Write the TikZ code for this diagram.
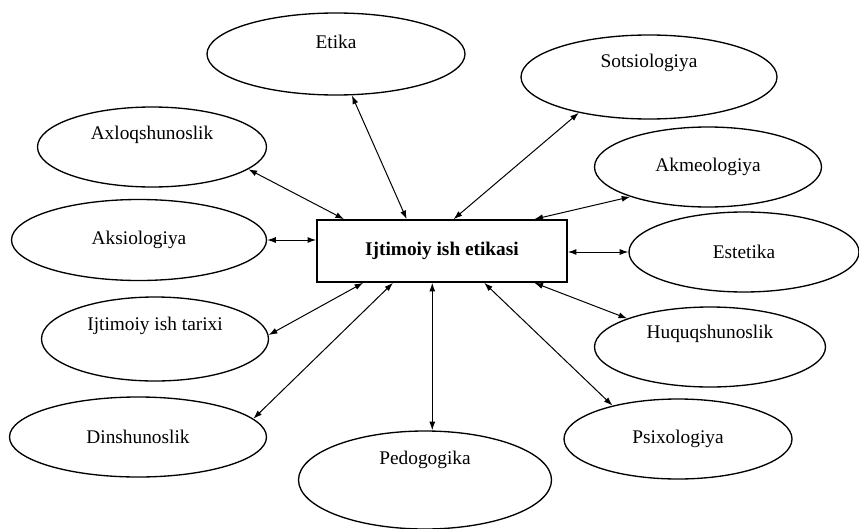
\documentclass[tikz,border=0pt]{standalone}
\usepackage{fontspec}
\setmainfont{Liberation Serif}
\usetikzlibrary{shapes.geometric,arrows.meta}

\tikzset{
	qism/.style={draw, ellipse, line width=1pt, inner sep=0pt},
	markaz/.style={draw, rectangle, line width=1.2pt, minimum width=187.5pt, minimum height=46.5pt, font=\fontsize{14.5}{17}\selectfont\bfseries},
	bog/.style={{Latex[length=6.5pt,width=4.5pt]}-{Latex[length=6.5pt,width=4.5pt]}, line width=0.75pt},
}

\begin{document}
\begin{tikzpicture}[x=0.75pt,y=0.75pt,yscale=-1,xscale=1,font=\fontsize{14.5}{17}\selectfont]
	\useasboundingbox (0,0) rectangle (859,528);
	
	%Shape: Rectangle
	\node [markaz] (ijtimoiy) at (442,251) {Ijtimoiy ish etikasi};
	
	%Shape: Ellipse
	\node [qism, minimum width=193.5pt, minimum height=61.5pt, label={[yshift=9pt]center:Etika}] (etika) at (336,54) {};
	%Shape: Ellipse
	\node [qism, minimum width=192pt, minimum height=63pt, label={[yshift=10.5pt]center:Sotsiologiya}] (sots) at (649,77) {};
	%Shape: Ellipse
	\node [qism, minimum width=171.75pt, minimum height=60pt, label={[yshift=9pt]center:Axloqshunoslik}] (axloq) at (152,147) {};
	%Shape: Ellipse
	\node [qism, minimum width=191.25pt, minimum height=60.75pt] (aksio) at (139,240) {Aksiologiya};
	%Shape: Ellipse
	\node [qism, minimum width=170.25pt, minimum height=60pt] (akmeo) at (708,167) {Akmeologiya};
	%Shape: Ellipse
	\node [qism, minimum width=172.5pt, minimum height=60pt] (estet) at (744,252) {Estetika};
	%Shape: Ellipse
	\node [qism, minimum width=170.25pt, minimum height=63pt, label={[yshift=9.75pt]center:Ijtimoiy ish tarixi}] (tarix) at (155,339) {};
	%Shape: Ellipse
	\node [qism, minimum width=192.75pt, minimum height=60pt] (din) at (138,437) {Dinshunoslik};
	%Shape: Ellipse
	\node [qism, minimum width=189.75pt, minimum height=73.5pt, label={[yshift=15pt]center:Pedogogika}] (pedo) at (425,480) {};
	%Shape: Ellipse
	\node [qism, minimum width=173.25pt, minimum height=60pt, label={[yshift=9.75pt]center:Huquqshunoslik}] (huquq) at (710,347) {};
	%Shape: Ellipse
	\node [qism, minimum width=171pt, minimum height=60pt] (psix) at (678,439) {Psixologiya};
	
	%Straight Lines
	\draw [bog] (etika.-69) -- (ijtimoiy.138.5);
	\draw [bog] (sots.-153.4) -- (ijtimoiy.70.5);
	\draw [bog] (axloq.-13.9) -- (ijtimoiy.162.6);
	\draw [bog] (aksio.east) -- (ijtimoiy.west |- aksio.east);
	\draw [bog] (akmeo.-159.2) -- (ijtimoiy.19.4);
	\draw [bog] (ijtimoiy.east |- estet.west) -- (estet.west);
	\draw [bog] (tarix.2) -- (ijtimoiy.-158.6);
	\draw [bog] (din.9.6) -- (ijtimoiy.-147.7);
	\draw [bog] (ijtimoiy.-107.9) -- (ijtimoiy.-107.9 |- pedo.north);
	\draw [bog] (huquq.161) -- (ijtimoiy.-19.8);
	\draw [bog] (psix.153.1) -- (ijtimoiy.-37.1);
\end{tikzpicture}
\end{document}
